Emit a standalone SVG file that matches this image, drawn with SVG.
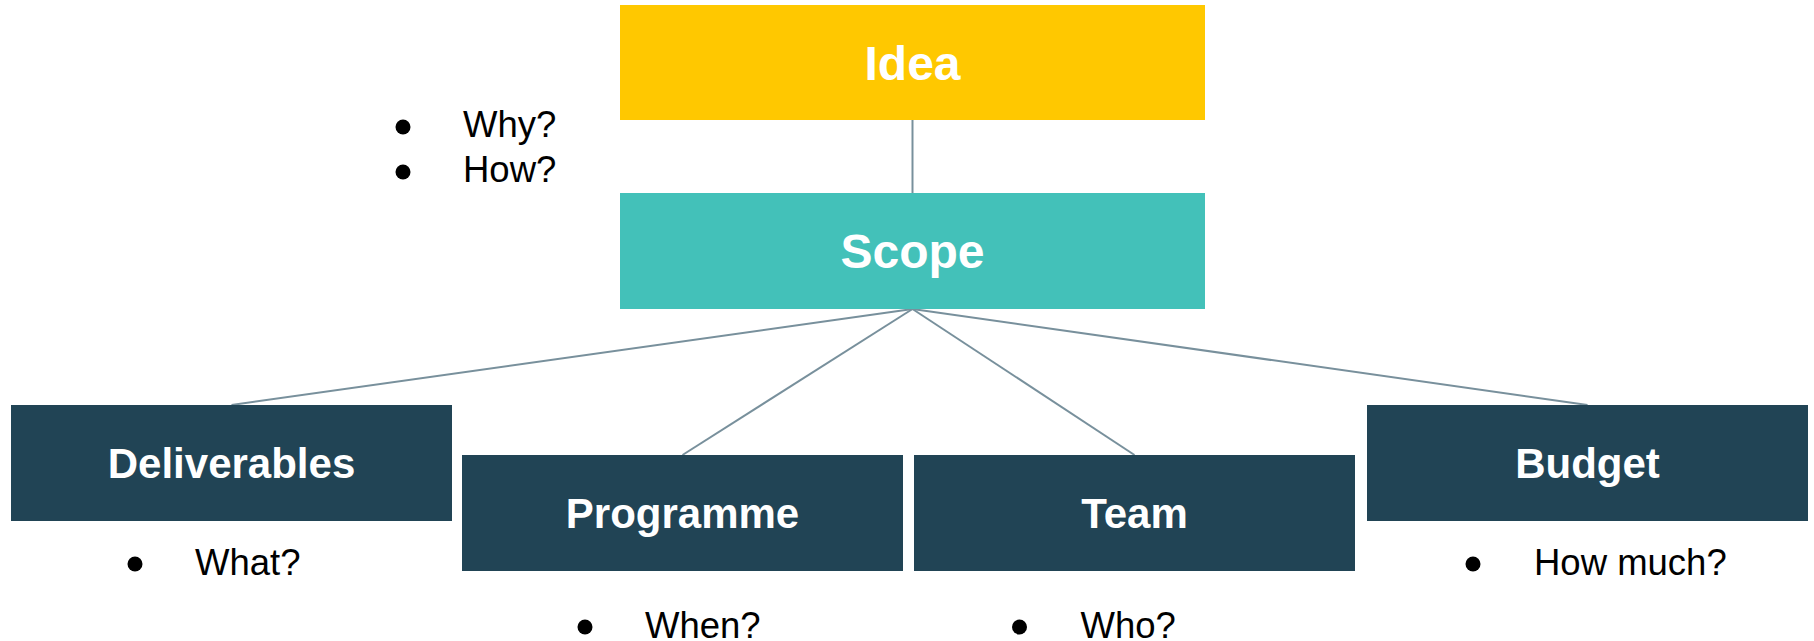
<svg xmlns="http://www.w3.org/2000/svg" width="1814" height="641" viewBox="0 0 1814 641">
<style>
.title{font-family:"Liberation Sans",Arial,sans-serif;font-weight:bold;fill:#ffffff;text-anchor:middle}
.big{font-size:48px}
.small{font-size:42px}
.lbl{font-family:"Liberation Sans",Arial,sans-serif;font-size:36.5px;fill:#000000}
.dark{fill:#214455}
.conn{stroke:#78909c;stroke-width:2;fill:none}
</style>
<rect width="1814" height="641" fill="#ffffff"/>
<g id="connectors">
<line class="conn" x1="912.5" y1="120" x2="912.5" y2="193"/>
<line class="conn" x1="912.5" y1="309" x2="231.5" y2="405"/>
<line class="conn" x1="912.5" y1="309" x2="682.5" y2="455"/>
<line class="conn" x1="912.5" y1="309" x2="1134.5" y2="455"/>
<line class="conn" x1="912.5" y1="309" x2="1587.5" y2="405"/>
</g>
<g id="idea">
<rect x="620" y="5" width="585" height="115" fill="#ffc800"/>
<text class="title big" x="912.5" y="80">Idea</text>
</g>
<g id="scope">
<rect x="620" y="193" width="585" height="116" fill="#43c1b9"/>
<text class="title big" x="912.5" y="268">Scope</text>
</g>
<g id="idea-notes">
<circle cx="403" cy="127" r="7.5"/>
<text class="lbl" x="463" y="137">Why?</text>
<circle cx="403" cy="172" r="7.5"/>
<text class="lbl" x="463" y="182">How?</text>
</g>
<g id="deliverables">
<rect class="dark" x="11" y="405" width="441" height="116"/>
<text class="title small" x="231.5" y="478">Deliverables</text>
</g>
<g id="programme">
<rect class="dark" x="462" y="455" width="441" height="116"/>
<text class="title small" x="682.5" y="528">Programme</text>
</g>
<g id="team">
<rect class="dark" x="914" y="455" width="441" height="116"/>
<text class="title small" x="1134.5" y="528">Team</text>
</g>
<g id="budget">
<rect class="dark" x="1367" y="405" width="441" height="116"/>
<text class="title small" x="1587.5" y="478">Budget</text>
</g>
<g id="notes">
<circle cx="135" cy="564" r="7.5"/>
<text class="lbl" x="195" y="575">What?</text>
<circle cx="585" cy="627" r="7.5"/>
<text class="lbl" x="645" y="638">When?</text>
<circle cx="1019.5" cy="627" r="7.5"/>
<text class="lbl" x="1080.5" y="638">Who?</text>
<circle cx="1473" cy="564" r="7.5"/>
<text class="lbl" x="1534" y="575">How much?</text>
</g>
</svg>
